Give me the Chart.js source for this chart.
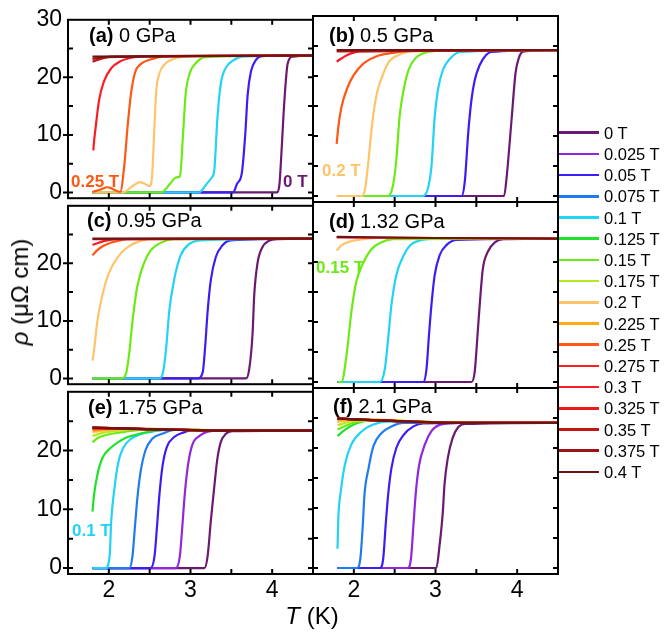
<!DOCTYPE html>
<html>
<head>
<meta charset="utf-8">
<script src="https://cdn.jsdelivr.net/npm/chart.js@4.4.1/dist/chart.umd.min.js"></script>
<style>
  body { margin: 0; background: #fff; width: 664px; height: 635px; position: relative; overflow: hidden;
         font-family: 'Liberation Sans', Arial, Helvetica, sans-serif; color: #000; }
  canvas { position: absolute; }
  .lbl { position: absolute; white-space: nowrap; line-height: 1; }
  .title { font-size: 20px; }
  .field { font-size: 17px; font-weight: bold; }
  .leg-line { position: absolute; width: 40px; height: 2.5px; }
  .leg-text { position: absolute; font-size: 16.5px; line-height: 1; white-space: nowrap; }
</style>
</head>
<body>
<script>
const FONT = "'Liberation Sans', Arial, Helvetica, sans-serif";

// legend / series
const fields = ['0 T', '0.025 T', '0.05 T', '0.075 T', '0.1 T', '0.125 T', '0.15 T', '0.175 T', '0.2 T',
                '0.225 T', '0.25 T', '0.275 T', '0.3 T', '0.325 T', '0.35 T', '0.375 T', '0.4 T'];
const fieldColors = ['#6b1a72', '#9226e0', '#3a1ef5', '#1f7bf2', '#22d3f5', '#1fe22a', '#6cea14', '#b6ec1e', '#ffc46a',
                     '#ffaa14', '#ff5714', '#ff1e1e', '#fc1c24', '#ee1a1a', '#c21616', '#9e1414', '#6e1414'];

// axes
const xTicks = [2, 3, 4];
const xMinor = [2, 2.5, 3, 3.5, 4];
const yTicks = [0, 10, 20, 30];
const yMinor = [0, 5, 10, 15, 20, 25];

// (a) 0 GPa   -- [T (K), rho]
const panelA = {
  '0 T': [[1.8,0],[4.06,0],[4.09,1.5],[4.11,6],[4.15,16],[4.19,22.4],[4.25,23.6],[4.5,23.8]],
  '0.05 T': [[1.8,0],[3.52,0],[3.57,1.5],[3.63,3.5],[3.67,10],[3.70,17],[3.74,21],[3.80,23],[3.88,23.7],[4.5,23.8]],
  '0.1 T': [[1.8,0],[3.1,0],[3.21,1.7],[3.26,2.6],[3.29,3.7],[3.33,13],[3.37,18.8],[3.43,21.6],[3.53,23],[3.63,23.6],[4.5,23.8]],
  '0.15 T': [[1.8,0],[2.64,0],[2.76,1.7],[2.82,2.6],[2.87,2.8],[2.91,10.4],[2.94,17],[2.99,20.7],[3.06,22.4],[3.18,23.5],[4.5,23.8]],
  '0.2 T': [[1.8,0],[2.17,0],[2.30,1.2],[2.38,1.8],[2.44,1.5],[2.50,1.1],[2.53,3],[2.56,12],[2.58,17.5],[2.62,20.7],[2.68,22.2],[2.79,23.2],[2.95,23.6],[4.5,23.8]],
  '0.25 T': [[1.8,0.1],[1.90,0.5],[1.98,0.9],[2.02,0.8],[2.06,0.5],[2.14,0.1],[2.19,4.8],[2.23,11.5],[2.27,17],[2.32,20.8],[2.39,22.3],[2.51,23.1],[2.67,23.6],[4.5,23.8]],
  '0.3 T': [[1.81,7.3],[1.82,9],[1.84,11.5],[1.88,16],[1.94,19.3],[2.03,21.6],[2.13,22.7],[2.27,23.4],[2.43,23.7],[4.5,23.8]],
  '0.35 T': [[1.8,22.7],[1.9,23.2],[2.03,23.6],[4.5,23.8]],
  '0.375 T': [[1.8,23.2],[1.95,23.5],[4.5,23.8]],
  '0.4 T': [[1.8,23.6],[4.5,23.8]]
};

// (b) 0.5 GPa
const panelB = {
  '0 T': [[1.8,0],[3.84,0],[3.87,3],[3.93,12.5],[3.98,20.5],[4.02,23],[4.08,24.1],[4.5,24.3]],
  '0.05 T': [[1.8,0],[3.32,0],[3.36,2.6],[3.40,10.4],[3.44,16],[3.48,19.3],[3.54,21.8],[3.62,23.5],[3.68,24],[4.5,24.3]],
  '0.1 T': [[1.8,0],[2.85,0],[2.91,1.4],[2.95,4.8],[2.99,13.2],[3.03,17.7],[3.09,21],[3.18,22.9],[3.30,24],[4.5,24.3]],
  '0.15 T': [[1.8,0],[2.42,0],[2.48,1.8],[2.52,6],[2.56,13.2],[2.61,17.7],[2.67,21],[2.75,22.9],[2.85,23.8],[3.0,24.2],[4.5,24.3]],
  '0.2 T': [[1.79,0],[2.1,0],[2.14,1.4],[2.18,6],[2.22,11.5],[2.28,17],[2.35,20],[2.43,22.4],[2.55,23.5],[2.71,24.1],[4.5,24.3]],
  '0.25 T': [[1.79,8.7],[1.81,11.5],[1.85,14.9],[1.92,18],[2.0,20.2],[2.12,22.1],[2.28,23.3],[2.45,23.8],[2.7,24.2],[4.5,24.3]],
  '0.3 T': [[1.79,22.4],[1.92,23.5],[2.08,24.1],[4.5,24.3]],
  '0.35 T': [[1.79,24.1],[4.5,24.3]],
  '0.4 T': [[1.79,24.3],[4.5,24.3]]
};

// (c) 0.95 GPa
const panelC = {
  '0 T': [[1.8,0],[3.68,0],[3.72,1.7],[3.76,7.8],[3.78,14.4],[3.82,20],[3.88,22.8],[3.96,23.9],[4.06,24.2],[4.5,24.3]],
  '0.05 T': [[1.8,0],[3.09,0],[3.15,1.1],[3.18,5.6],[3.21,11.7],[3.25,17.2],[3.31,21.1],[3.39,23.1],[3.49,24],[4.5,24.3]],
  '0.1 T': [[1.8,0],[2.62,0],[2.66,0.8],[2.70,5],[2.74,11.7],[2.80,17.2],[2.88,21.4],[2.98,23.3],[3.13,24],[4.5,24.3]],
  '0.15 T': [[1.8,0],[2.15,0],[2.21,0.8],[2.25,4.4],[2.29,10],[2.35,16.1],[2.43,20],[2.51,22.2],[2.64,23.6],[2.80,24.2],[4.5,24.3]],
  '0.2 T': [[1.8,3.1],[1.82,5],[1.86,10],[1.92,14.4],[2.0,18.3],[2.11,21.1],[2.23,22.8],[2.39,23.9],[2.55,24.3],[4.5,24.3]],
  '0.25 T': [[1.8,21.4],[1.86,22.3],[1.94,23.1],[2.11,23.9],[2.23,24.2],[4.5,24.3]],
  '0.3 T': [[1.8,23.2],[1.95,23.9],[2.1,24.2],[4.5,24.3]],
  '0.35 T': [[1.8,24.2],[4.5,24.3]],
  '0.4 T': [[1.8,24.3],[4.5,24.3]]
};

// (d) 1.32 GPa
const panelD = {
  '0 T': [[1.8,0],[3.44,0],[3.48,1.7],[3.52,8.9],[3.55,14.4],[3.58,18.9],[3.64,21.7],[3.73,23.3],[3.83,23.8],[4.5,23.9]],
  '0.05 T': [[1.8,0],[2.85,0],[2.89,2.2],[2.92,7.8],[2.95,12.8],[2.99,17.8],[3.05,21.1],[3.14,22.9],[3.26,23.7],[4.5,23.9]],
  '0.1 T': [[1.8,0],[2.32,0],[2.38,2.2],[2.42,7.2],[2.46,12.8],[2.52,17.8],[2.61,21.1],[2.69,22.8],[2.81,23.6],[3.0,23.9],[4.5,23.9]],
  '0.15 T': [[1.81,0],[1.85,0],[1.91,4.4],[1.97,11.7],[2.03,16.7],[2.12,20],[2.22,22.2],[2.34,23.3],[2.48,23.8],[4.5,23.9]],
  '0.2 T': [[1.79,21.9],[1.85,22.8],[1.95,23.4],[2.12,23.8],[2.3,24.0],[4.5,23.9]],
  '0.3 T': [[1.79,24.1],[3.0,24.0],[4.5,23.9]],
  '0.4 T': [[1.79,24.2],[3.0,24.0],[4.5,23.9]]
};

// (e) 1.75 GPa
const normalE = [[1.8,23.9],[3.5,23.4],[4.5,23.4]];
const panelE = {
  '0 T': [[1.8,0],[3.17,0],[3.21,2.1],[3.25,8.2],[3.29,13.7],[3.33,18.7],[3.37,21.4],[3.43,22.8],[3.51,23.3],[4.5,23.4]],
  '0.025 T': [[1.8,0],[2.82,0],[2.87,2.1],[2.90,7.1],[2.93,12.6],[2.97,17.6],[3.02,20.9],[3.11,22.5],[3.21,23.2],[3.4,23.45],[4.5,23.4]],
  '0.05 T': [[1.8,0],[2.51,0],[2.56,2.1],[2.59,7.1],[2.62,12.6],[2.66,17.6],[2.71,20.6],[2.80,22.3],[2.92,23.1],[3.04,23.5],[3.5,23.4],[4.5,23.4]],
  '0.075 T': [[1.8,0],[2.25,0],[2.29,2.1],[2.32,7.1],[2.35,12],[2.39,16.5],[2.45,20.1],[2.53,22],[2.66,22.9],[2.80,23.5],[3.5,23.4],[4.5,23.4]],
  '0.1 T': [[1.8,0],[1.96,0],[2.01,2.1],[2.03,8.2],[2.07,13.7],[2.11,17.6],[2.17,20.3],[2.27,22],[2.39,22.8],[2.56,23.3],[2.8,23.6],[3.5,23.4],[4.5,23.4]],
  '0.125 T': [[1.8,9.6],[1.82,12.6],[1.86,15.9],[1.92,18.7],[2.01,20.3],[2.11,21.4],[2.23,22.3],[2.39,22.9],[2.56,23.4],[2.8,23.6],[3.5,23.4],[4.5,23.4]],
  '0.15 T': [[1.8,21.4],[1.86,22.1],[1.98,22.7],[2.15,23.1],[2.4,23.5],[2.8,23.6],[3.5,23.4],[4.5,23.4]],
  '0.175 T': [[1.8,22.5],[1.95,23.1],[2.2,23.5],[2.6,23.7],[3.5,23.4],[4.5,23.4]],
  '0.2 T': [[1.8,23.1],[2.0,23.5],[2.4,23.7],[3.5,23.4],[4.5,23.4]],
  '0.225 T': [[1.8,23.4],[2.2,23.7],[3.5,23.4],[4.5,23.4]],
  '0.25 T': [[1.8,23.6],[2.1,23.8],[3.5,23.4],[4.5,23.4]],
  '0.275 T': [[1.8,23.8],[3.5,23.4],[4.5,23.4]],
  '0.3 T': [[1.8,23.8],[3.5,23.4],[4.5,23.4]],
  '0.325 T': normalE,
  '0.35 T': normalE,
  '0.375 T': normalE,
  '0.4 T': normalE
};

// (f) 2.1 GPa
const normalF = [[1.8,24.9],[3.3,24.2],[4.5,24.2]];
const panelF = {
  '0 T': [[1.8,0],[3.01,0],[3.05,3.8],[3.09,9.4],[3.11,13.9],[3.15,18.3],[3.21,21.7],[3.28,23.5],[3.36,24],[4.5,24.2]],
  '0.025 T': [[1.8,0],[2.66,0],[2.70,1.6],[2.73,7.2],[2.76,12.7],[2.80,17.2],[2.87,20.6],[2.95,22.8],[3.06,23.9],[3.3,24.2],[4.5,24.2]],
  '0.05 T': [[1.8,0],[2.32,0],[2.36,1.6],[2.39,7.2],[2.42,12.2],[2.46,16.6],[2.52,20],[2.61,22.2],[2.73,23.6],[2.85,24.1],[3.3,24.2],[4.5,24.2]],
  '0.075 T': [[1.8,0],[2.04,0],[2.08,1.6],[2.11,7.2],[2.13,12.2],[2.18,16.6],[2.24,20.3],[2.34,22.5],[2.46,23.6],[2.61,24.2],[3.3,24.2],[4.5,24.2]],
  '0.1 T': [[1.8,3.2],[1.81,8.3],[1.84,12.7],[1.89,17.2],[1.97,20.6],[2.10,22.8],[2.24,23.9],[2.40,24.4],[2.7,24.4],[3.3,24.2],[4.5,24.2]],
  '0.125 T': [[1.8,22],[1.87,22.8],[2.0,23.9],[2.16,24.5],[2.5,24.5],[3.3,24.2],[4.5,24.2]],
  '0.15 T': [[1.8,23.1],[2.0,24.2],[2.3,24.6],[3.3,24.2],[4.5,24.2]],
  '0.175 T': [[1.8,23.8],[2.0,24.5],[2.3,24.6],[3.3,24.2],[4.5,24.2]],
  '0.2 T': [[1.8,24.3],[2.0,24.7],[3.3,24.2],[4.5,24.2]],
  '0.225 T': [[1.8,24.6],[2.0,24.8],[3.3,24.2],[4.5,24.2]],
  '0.25 T': normalF,
  '0.275 T': normalF,
  '0.3 T': normalF,
  '0.325 T': normalF,
  '0.35 T': normalF,
  '0.375 T': normalF,
  '0.4 T': normalF
};

const panelTitles = ['(a)', '(b)', '(c)', '(d)', '(e)', '(f)'];
const panelPressures = ['0 GPa', '0.5 GPa', '0.95 GPa', '1.32 GPa', '1.75 GPa', '2.1 GPa'];
const panelData = [panelA, panelB, panelC, panelD, panelE, panelF];

// layout (px)
const PAD = 16;
const colX = [68, 313], colW = [245, 245];
const rowY = [16, 202, 388], rowH = 186;
const titlePos = [[89, 42], [329, 42], [87, 227], [329, 228], [88, 414], [333, 413]];
const fieldLabels = [
  { panel: 0, text: '0.25 T', color: fieldColors[10], x: 71, base: 187 },
  { panel: 0, text: '0 T', color: fieldColors[0], x: 283, base: 187 },
  { panel: 1, text: '0.2 T', color: fieldColors[8], x: 322, base: 176 },
  { panel: 3, text: '0.15 T', color: fieldColors[6], x: 316, base: 273 },
  { panel: 4, text: '0.1 T', color: fieldColors[4], x: 72, base: 536 }
];

const framePlugin = {
  id: 'frame',
  afterDatasetsDraw(chart, args, opts) {
    const { ctx, chartArea: a, scales: { x, y } } = chart;
    ctx.save();
    ctx.strokeStyle = '#000';
    ctx.lineWidth = 2;
    ctx.beginPath();
    xMinor.forEach(v => {
      const px = x.getPixelForValue(v);
      ctx.moveTo(px, a.bottom); ctx.lineTo(px, a.bottom - 5);
      ctx.moveTo(px, a.top); ctx.lineTo(px, a.top + 5);
    });
    yMinor.forEach(v => {
      const py = y.getPixelForValue(v);
      ctx.moveTo(a.left + 5, py); ctx.lineTo(opts.outer && v % 10 === 0 ? a.left - 5 : a.left, py);
      ctx.moveTo(a.right, py); ctx.lineTo(a.right - 5, py);
    });
    ctx.stroke();
    ctx.strokeRect(a.left, a.top, a.width, a.height);
    ctx.restore();
  }
};

function addLabel(html, cls, left, top, color) {
  const d = document.createElement('div');
  d.className = 'lbl ' + cls;
  d.style.left = left + 'px';
  d.style.top = top + 'px';
  if (color) d.style.color = color;
  d.innerHTML = html;
  document.body.appendChild(d);
  return d;
}

panelData.forEach((data, k) => {
  const col = k % 2, row = Math.floor(k / 2);
  const w = colW[col], h = rowH;
  const wy = col === 0 ? 50 : 0;
  const hx = row === 2 ? 40 : 0;
  const cv = document.createElement('canvas');
  cv.width = w + wy + 2 * PAD;
  cv.height = h + hx + 2 * PAD;
  cv.style.left = (colX[col] - wy - PAD) + 'px';
  cv.style.top = (rowY[row] - PAD) + 'px';
  document.body.appendChild(cv);

  // higher fields first so they are drawn on top
  const datasets = fields.map((f, i) => ({ f, i })).filter(o => data[o.f]).reverse().map(o => ({
    label: o.f,
    data: data[o.f].map(([t, r]) => ({ x: t, y: r })),
    borderColor: fieldColors[o.i],
    borderWidth: 2.2,
    pointRadius: 0,
    fill: false,
    cubicInterpolationMode: 'monotone'
  }));

  new Chart(cv, {
    type: 'line',
    data: { datasets },
    options: {
      responsive: false,
      animation: false,
      devicePixelRatio: 1,
      layout: { padding: PAD },
      plugins: { legend: { display: false }, tooltip: { enabled: false }, frame: { outer: col === 0 } },
      scales: {
        x: {
          type: 'linear', min: 1.5, max: 4.5,
          grid: { display: false, drawTicks: false }, border: { display: false },
          ticks: { display: row === 2, color: '#000', font: { size: 23, family: FONT }, padding: 3, maxRotation: 0 },
          afterBuildTicks: s => { s.ticks = xTicks.map(v => ({ value: v })); },
          afterFit: s => { s.height = hx; }
        },
        y: {
          type: 'linear', min: -1, max: 30,
          grid: { display: false, drawTicks: false }, border: { display: false },
          ticks: { display: col === 0, color: '#000', font: { size: 23, family: FONT }, padding: 6 },
          afterBuildTicks: s => { s.ticks = (row === 0 ? yTicks : yTicks.slice(0, 3)).map(v => ({ value: v })); },
          afterFit: s => { s.width = wy; }
        }
      }
    },
    plugins: [framePlugin]
  });

  const [tx, tb] = titlePos[k];
  addLabel('<b>' + panelTitles[k] + '</b> ' + panelPressures[k], 'title', tx, tb - 17);
});

fieldLabels.forEach(l => addLabel(l.text, 'field', l.x, l.base - 14.4, l.color));

// axis titles
const xt = addLabel('<i>T</i> (K)', '', 312, 604);
xt.style.fontSize = '24px';
xt.style.transform = 'translateX(-50%)';
const yt = addLabel('<i>ρ</i> (μΩ cm)', '', 20, 292);
yt.style.fontSize = '24px';
yt.style.transform = 'translate(-50%, -50%) rotate(-90deg)';

// legend
fields.forEach((f, i) => {
  const cy = 132.7 + 21.2 * i;
  const ln = document.createElement('div');
  ln.className = 'leg-line';
  ln.style.left = '559px';
  ln.style.top = (cy - 1.25) + 'px';
  ln.style.background = fieldColors[i];
  document.body.appendChild(ln);
  const tx = document.createElement('div');
  tx.className = 'leg-text';
  tx.style.left = '604px';
  tx.style.top = (cy - 8) + 'px';
  tx.textContent = f;
  document.body.appendChild(tx);
});
</script>
</body>
</html>
